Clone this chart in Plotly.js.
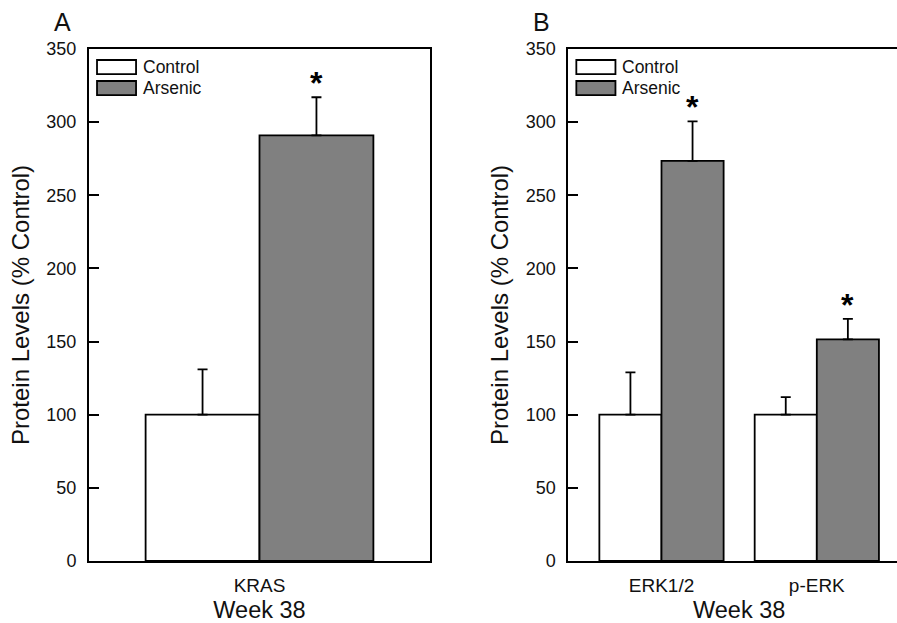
<!DOCTYPE html>
<html>
<head>
<meta charset="utf-8">
<script src="https://cdn.plot.ly/plotly-3.0.1.min.js"></script>
<style>
html,body{margin:0;padding:0;overflow:hidden;background:#fff;}
#chart{width:912px;height:623px;}
</style>
</head>
<body>
<div id="chart"></div>
<script>
// ---- data ----
const categoriesA = ['KRAS'];
const controlA = [100];
const controlErrA = [31];
const arsenicA = [291];
const arsenicErrA = [26];
const significantA = [true];

const categoriesB = ['ERK1/2', 'p-ERK'];
const controlB = [100, 100];
const controlErrB = [29, 12];
const arsenicB = [273.5, 151.5];
const arsenicErrB = [27, 14];
const significantB = [true, true];

const seriesNames = ['Control', 'Arsenic'];
const panelLabels = ['A', 'B'];
const xTitle = 'Week 38';
const yTitle = 'Protein Levels (% Control)';
const yTicks = [0, 50, 100, 150, 200, 250, 300, 350];

// ---- styles ----
const FONT = 'Liberation Sans, Arial, sans-serif';
const TXT = '#111';
const fills = ['#ffffff', '#808080'];
const W = 912, H = 623;

function barTrace(name, cats, vals, errs, fill, width, offset, xa, ya) {
  return {
    type: 'bar', name: name, x: cats, y: vals,
    width: width, offset: offset,
    xaxis: xa, yaxis: ya, showlegend: false,
    marker: {color: fill, line: {color: '#000', width: 1.8}},
    error_y: {type: 'data', array: errs, arrayminus: errs.map(() => 0), symmetric: false,
              color: '#000', thickness: 1.8, width: 5},
    hoverinfo: 'skip'
  };
}

const wA = 0.334, wB = 0.4;
const data = [
  barTrace(seriesNames[0], categoriesA, controlA, controlErrA, fills[0], wA, -wA, 'x', 'y'),
  barTrace(seriesNames[1], categoriesA, arsenicA, arsenicErrA, fills[1], wA, 0, 'x', 'y'),
  barTrace(seriesNames[0], categoriesB, controlB, controlErrB, fills[0], wB, -wB, 'x2', 'y2'),
  barTrace(seriesNames[1], categoriesB, arsenicB, arsenicErrB, fills[1], wB, 0, 'x2', 'y2')
];

const yDom = [1 - 561 / H, 1 - 49 / H];
function xAxis(dom, range, anchor) {
  return {
    domain: dom, anchor: anchor, type: 'category', range: range,
    showline: true, mirror: true, linecolor: '#000', linewidth: 2,
    ticks: '', showgrid: false, zeroline: false, fixedrange: true,
    ticklabelstandoff: 6,
    tickfont: {family: FONT, size: 19, color: TXT},
    title: {text: xTitle, font: {family: FONT, size: 23.5, color: TXT}, standoff: 12},
    automargin: false
  };
}
function yAxis(anchor) {
  return {
    domain: yDom, anchor: anchor, range: [0, 350], tickvals: yTicks,
    showline: true, mirror: true, linecolor: '#000', linewidth: 2,
    ticks: 'inside', ticklen: 10, tickwidth: 2, tickcolor: '#000',
    ticklabelstandoff: 7,
    showgrid: false, zeroline: false, fixedrange: true,
    tickfont: {family: FONT, size: 18, color: TXT},
    title: {text: yTitle, font: {family: FONT, size: 24, color: TXT}, standoff: 10},
    automargin: false
  };
}

const annotations = [];
const shapes = [];
const panels = [
  {xa: 'x', ya: 'y', cats: categoriesA, vals: arsenicA, errs: arsenicErrA, sig: significantA, w: wA, lx: 62},
  {xa: 'x2', ya: 'y2', cats: categoriesB, vals: arsenicB, errs: arsenicErrB, sig: significantB, w: wB, lx: 541}
];
panels.forEach((p, k) => {
  annotations.push({xref: 'paper', yref: 'paper', x: p.lx / W, y: 1 - 22 / H, text: panelLabels[k],
    showarrow: false, xanchor: 'center', yanchor: 'middle', font: {family: FONT, size: 25, color: TXT}});
  p.cats.forEach((c, i) => {
    if (p.sig[i]) {
      annotations.push({xref: p.xa, yref: p.ya, x: i + p.w / 2, y: p.vals[i] + p.errs[i], text: '<b>*</b>',
        showarrow: false, xanchor: 'center', yanchor: 'bottom', yshift: -6,
        font: {family: FONT, size: 32, color: '#000'}});
    }
  });
  const xd = p.xa + ' domain', yd = p.ya + ' domain';
  const rows = [[0.9785, 0.951], [0.9375, 0.910]];
  rows.forEach((r, j) => {
    shapes.push({type: 'rect', xref: xd, yref: yd, x0: 0.0235, x1: 0.138, y0: r[1], y1: r[0],
      fillcolor: fills[j], line: {color: '#000', width: 1.8}});
    annotations.push({xref: xd, yref: yd, x: 0.152, y: (r[0] + r[1]) / 2, text: seriesNames[j],
      showarrow: false, xanchor: 'left', yanchor: 'middle', font: {family: FONT, size: 17.5, color: TXT}});
  });
});

const layout = {
  width: W, height: H,
  margin: {l: 0, r: 0, t: 0, b: 0},
  paper_bgcolor: '#fff', plot_bgcolor: '#fff',
  barmode: 'overlay', showlegend: false,
  xaxis: xAxis([89 / W, 430 / W], [-0.5, 0.5], 'y'),
  yaxis: yAxis('x'),
  xaxis2: xAxis([568.3 / W, 910 / W], [-0.6, 1.6], 'y2'),
  yaxis2: yAxis('x2'),
  annotations: annotations, shapes: shapes,
  font: {family: FONT, color: TXT}
};

Plotly.newPlot('chart', data, layout, {staticPlot: true, displayModeBar: false});
</script>
</body>
</html>
